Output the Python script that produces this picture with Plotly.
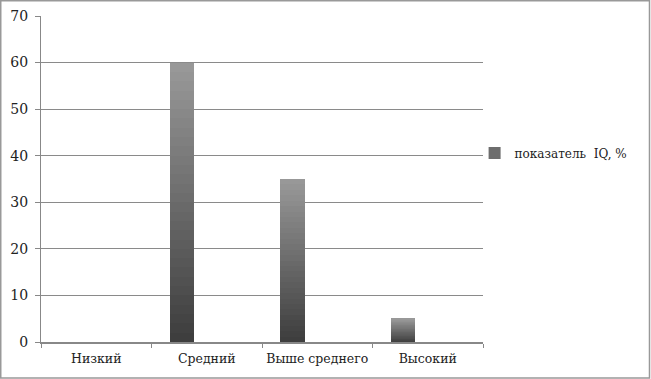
import plotly.graph_objects as go

categories = ["Низкий", "Средний", "Выше среднего", "Высокий"]
values = [0, 60, 35, 5]
series_name = "показатель  IQ, %"
y_ticks = [0, 10, 20, 30, 40, 50, 60, 70]

FONT = "DejaVu Serif"
N_SEG = 30
dark = (0x3e, 0x3e, 0x3e)
light = (0x98, 0x98, 0x98)

def mix(t):
    return "rgb(%d,%d,%d)" % tuple(round(a + (b - a) * t) for a, b in zip(dark, light))

fig = go.Figure()
for i in range(N_SEG):
    t = i / (N_SEG - 1)
    fig.add_trace(go.Bar(
        x=categories,
        y=[v / N_SEG for v in values],
        width=0.222, offset=-0.335,
        marker=dict(color=mix(t), line=dict(width=0)),
        name=series_name,
        legendgroup="s",
        showlegend=(i == N_SEG // 2),
        hoverinfo="skip",
    ))

W, H = 651, 379
ml, mr, mt, mb = 41, 168, 16, 37
pw, ph = W - ml - mr, H - mt - mb

fig.update_layout(
    width=W, height=H,
    margin=dict(l=ml, r=mr, t=mt, b=mb, pad=0, autoexpand=False),
    barmode="stack",
    plot_bgcolor="white", paper_bgcolor="white",
    font=dict(family=FONT, size=13, color="#222"),
    showlegend=True,
    legend=dict(x=0.981, y=0.58, xanchor="left", yanchor="middle",
                font=dict(family=FONT, size=12, color="#222"),
                bgcolor="rgba(0,0,0,0)"),
    xaxis=dict(
        type="category", range=[-0.5, 3.5], automargin=False, tickangle=0,
        tickson="boundaries", ticks="outside", ticklen=4, tickcolor="#888",
        ticklabelstandoff=4,
        showline=True, linecolor="#888", linewidth=1.5,
        showgrid=False, zeroline=False,
        tickfont=dict(family=FONT, size=12.5, color="#222"),
    ),
    yaxis=dict(
        range=[0, 70], tickvals=y_ticks, automargin=False,
        ticks="outside", ticklen=5, tickcolor="#888", ticklabelstandoff=4,
        showline=True, linecolor="#888", linewidth=1,
        showgrid=True, gridcolor="#8a8a8a", gridwidth=1,
        zeroline=False,
        tickfont=dict(family=FONT, size=14, color="#222"),
    ),
    shapes=[dict(type="rect", xref="paper", yref="paper",
                 x0=(0.75 - ml) / pw, x1=(W - 1.5 - ml) / pw,
                 y0=-(mb - 1) / ph, y1=(H - mb - 0.75) / ph,
                 line=dict(color="#999", width=1.5), fillcolor="rgba(0,0,0,0)")],
)

fig.write_html("out.html", config={"displayModeBar": False},
               post_script="document.body.style.margin='0px';")
